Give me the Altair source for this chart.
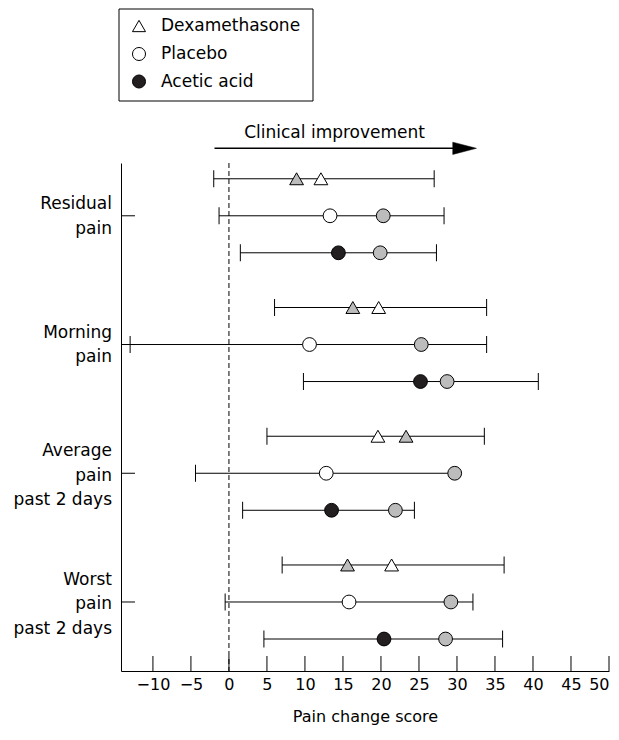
import altair as alt
import pandas as pd

FONT = "DejaVu Sans"

groups = ["Residual pain", "Morning pain", "Average pain past 2 days", "Worst pain past 2 days"]
group_lines = [["Residual", "pain"], ["Morning", "pain"],
               ["Average", "pain", "past 2 days"], ["Worst", "pain", "past 2 days"]]
treatments = ["Dexamethasone", "Placebo", "Acetic acid"]

# confidence interval ends per treatment, one value per group
ci_low = {
    "Dexamethasone": [-2.0, 6.0, 5.0, 7.0],
    "Placebo": [-1.3, -13.0, -4.4, -0.5],
    "Acetic acid": [1.5, 9.8, 1.8, 4.6],
}
ci_high = {
    "Dexamethasone": [27.0, 33.9, 33.6, 36.2],
    "Placebo": [28.3, 33.9, 29.7, 32.1],
    "Acetic acid": [27.3, 40.7, 24.4, 36.0],
}
# whether the upper end has a cap drawn
cap_high = {
    "Dexamethasone": [True, True, True, True],
    "Placebo": [True, True, False, True],
    "Acetic acid": [True, True, True, True],
}
# treatment markers (open triangle, open circle, filled circle)
main_value = {
    "Dexamethasone": [12.1, 19.7, 19.6, 21.4],
    "Placebo": [13.3, 10.6, 12.8, 15.8],
    "Acetic acid": [14.4, 25.2, 13.5, 20.4],
}
# grey markers
grey_value = {
    "Dexamethasone": [8.9, 16.3, 23.3, 15.6],
    "Placebo": [20.3, 25.3, 29.7, 29.2],
    "Acetic acid": [19.9, 28.7, 21.9, 28.5],
}
x_ticks = [-10, -5, 0, 5, 10, 15, 20, 25, 30, 35, 40, 45, 50]

X_MIN, X_MAX = -14.2, 50
Y_TOP, Y_BOT = 0.59, 4.536
W, H = 488, 508
PX_PER_Y = H / (Y_BOT - Y_TOP)
ROW_OFF = {"Dexamethasone": -0.2875, "Placebo": 0.0, "Acetic acid": 0.2875}

rows, pts, caps = [], [], []
for gi, g in enumerate(groups):
    for t in treatments:
        y = gi + 1 + ROW_OFF[t]
        rows.append({"group": g, "treatment": t, "y": y,
                     "lo": ci_low[t][gi], "hi": ci_high[t][gi]})
        caps.append({"x": ci_low[t][gi], "y": y})
        if cap_high[t][gi]:
            caps.append({"x": ci_high[t][gi], "y": y})
        pts.append({"treatment": t, "kind": "grey", "x": grey_value[t][gi], "y": y})
        pts.append({"treatment": t, "kind": "main", "x": main_value[t][gi], "y": y})
rows = pd.DataFrame(rows)
pts = pd.DataFrame(pts)
caps = pd.DataFrame(caps)

# one row per label line, stacked around the group's position
LINE_H = 24.5
lab_rows = []
for gi, lines in enumerate(group_lines):
    n = len(lines)
    shift = 0.5 if n == 2 else 2.5
    for li, txt in enumerate(lines):
        off_px = (li - (n - 1) / 2) * LINE_H + shift
        lab_rows.append({"y": gi + 1 + off_px / PX_PER_Y, "label": txt})
lab = pd.DataFrame(lab_rows)

xs = alt.Scale(domain=[X_MIN, X_MAX], nice=False, zero=False)
ys = alt.Scale(domain=[Y_TOP, Y_BOT], nice=False, zero=False, reverse=True)

shape_scale = alt.Scale(domain=treatments, range=["triangle-up", "circle", "circle"])
fill_scale = alt.Scale(domain=treatments, range=["white", "white", "#231f20"])

base_x = alt.X("lo:Q", scale=xs,
               axis=alt.Axis(values=x_ticks, ticks=False, grid=False, domainColor="black",
                             domainWidth=1, labelColor="black", labelFont=FONT, labelFontSize=16,
                             labelPadding=5, labelFlush=True, title="Pain change score",
                             titleFont=FONT, titleFontSize=16, titleFontWeight="normal",
                             titleColor="black", titlePadding=16))
base_y = alt.Y("y:Q", scale=ys,
               axis=alt.Axis(labels=False, ticks=False, grid=False, title=None,
                             domainColor="black", domainWidth=1))

ci_lines = alt.Chart(rows).mark_rule(color="black", strokeWidth=1).encode(
    x=base_x, x2="hi:Q", y=base_y)

cap_marks = alt.Chart(caps).mark_tick(orient="vertical", color="black", size=17,
                                      thickness=1, opacity=1).encode(
    x=alt.X("x:Q", scale=xs), y=alt.Y("y:Q", scale=ys))

zero_line = alt.Chart(pd.DataFrame({"x": [0]})).mark_rule(
    color="black", strokeWidth=1, strokeDash=[5, 3]).encode(
    x=alt.X("x:Q", scale=xs), y=alt.datum(Y_TOP), y2=alt.datum(Y_BOT))

# inward ticks
xt = pd.DataFrame({"x": x_ticks})
x_tick_marks = alt.Chart(xt).mark_rule(color="black", strokeWidth=1).encode(
    x=alt.X("x:Q", scale=xs), y=alt.datum(Y_BOT), y2=alt.datum(Y_BOT - 15 / PX_PER_Y))
yt = pd.DataFrame({"y": [1, 2, 3, 4]})
y_tick_marks = alt.Chart(yt).mark_rule(color="black", strokeWidth=1).encode(
    x=alt.datum(X_MIN), x2=alt.datum(X_MIN + 1.84), y=alt.Y("y:Q", scale=ys))

grey_pts = alt.Chart(pts[pts.kind == "grey"]).mark_point(
    filled=True, fill="#bcbcbc", stroke="black", strokeWidth=1, opacity=1, size=190).encode(
    x=alt.X("x:Q", scale=xs), y=alt.Y("y:Q", scale=ys),
    shape=alt.Shape("treatment:N", scale=shape_scale, legend=None))

main_pts = alt.Chart(pts[pts.kind == "main"]).mark_point(
    filled=True, stroke="black", strokeWidth=1, opacity=1, size=190).encode(
    x=alt.X("x:Q", scale=xs), y=alt.Y("y:Q", scale=ys),
    shape=alt.Shape("treatment:N", scale=shape_scale, legend=None),
    fill=alt.Fill("treatment:N", scale=fill_scale, legend=None))

# group labels
labels = alt.Chart(lab).mark_text(align="right", baseline="middle",
                                  font=FONT, fontSize=17, color="black").encode(
    x=alt.value(-9), y=alt.Y("y:Q", scale=ys), text="label:N")

# "Clinical improvement" arrow
arrow_x0, arrow_x1, arrow_y = -1.9, 31.0, 0.476
arrow = alt.Chart(pd.DataFrame({"a": [arrow_x0], "b": [arrow_x1], "y": [arrow_y]})).mark_rule(
    color="black", strokeWidth=1.5).encode(
    x=alt.X("a:Q", scale=xs), x2="b:Q", y=alt.Y("y:Q", scale=ys))
arrow_head = alt.Chart(pd.DataFrame({"x": [arrow_x1], "y": [arrow_y]})).mark_point(
    shape="M -1 -0.52 L 1 0 L -1 0.52 Z", filled=True, fill="black", stroke="black",
    strokeWidth=0.5, opacity=1, size=560).encode(
    x=alt.X("x:Q", scale=xs), y=alt.Y("y:Q", scale=ys))
arrow_text = alt.Chart(pd.DataFrame({"x": [13.9], "y": [0.357], "t": ["Clinical improvement"]})).mark_text(
    font=FONT, fontSize=17, color="black", align="center", baseline="middle").encode(
    x=alt.X("x:Q", scale=xs), y=alt.Y("y:Q", scale=ys), text="t:N")

# legend (drawn by hand above the plot)
leg = pd.DataFrame({"treatment": treatments, "py": [-137, -109, -81.5]})
leg_box = alt.Chart(pd.DataFrame({"a": [0]})).mark_rect(
    fill="white", stroke="black", strokeWidth=1).encode(
    x=alt.value(-2), x2=alt.value(192), y=alt.value(-154), y2=alt.value(-62))
leg_sym = alt.Chart(leg).mark_point(filled=True, stroke="black", strokeWidth=1,
                                    opacity=1, size=170).encode(
    x=alt.value(18), y=alt.Y("py:Q", scale=None),
    shape=alt.Shape("treatment:N", scale=shape_scale, legend=None),
    fill=alt.Fill("treatment:N", scale=fill_scale, legend=None))
leg_txt = alt.Chart(leg).mark_text(align="left", baseline="middle", font=FONT,
                                   fontSize=17, color="black").encode(
    x=alt.value(40), y=alt.Y("py:Q", scale=None), text="treatment:N")

chart = alt.layer(
    ci_lines, zero_line, cap_marks, x_tick_marks, y_tick_marks, grey_pts, main_pts,
    labels, arrow, arrow_head, arrow_text, leg_box, leg_sym, leg_txt
).properties(
    width=W, height=H,
    autosize=alt.AutoSizeParams(type="none"),
    padding={"left": 113, "top": 155, "right": 2, "bottom": 55},
).configure_view(stroke=None).configure_axis(domainColor="black")

chart.save("out.html", embed_options={"renderer": "svg", "actions": False})
